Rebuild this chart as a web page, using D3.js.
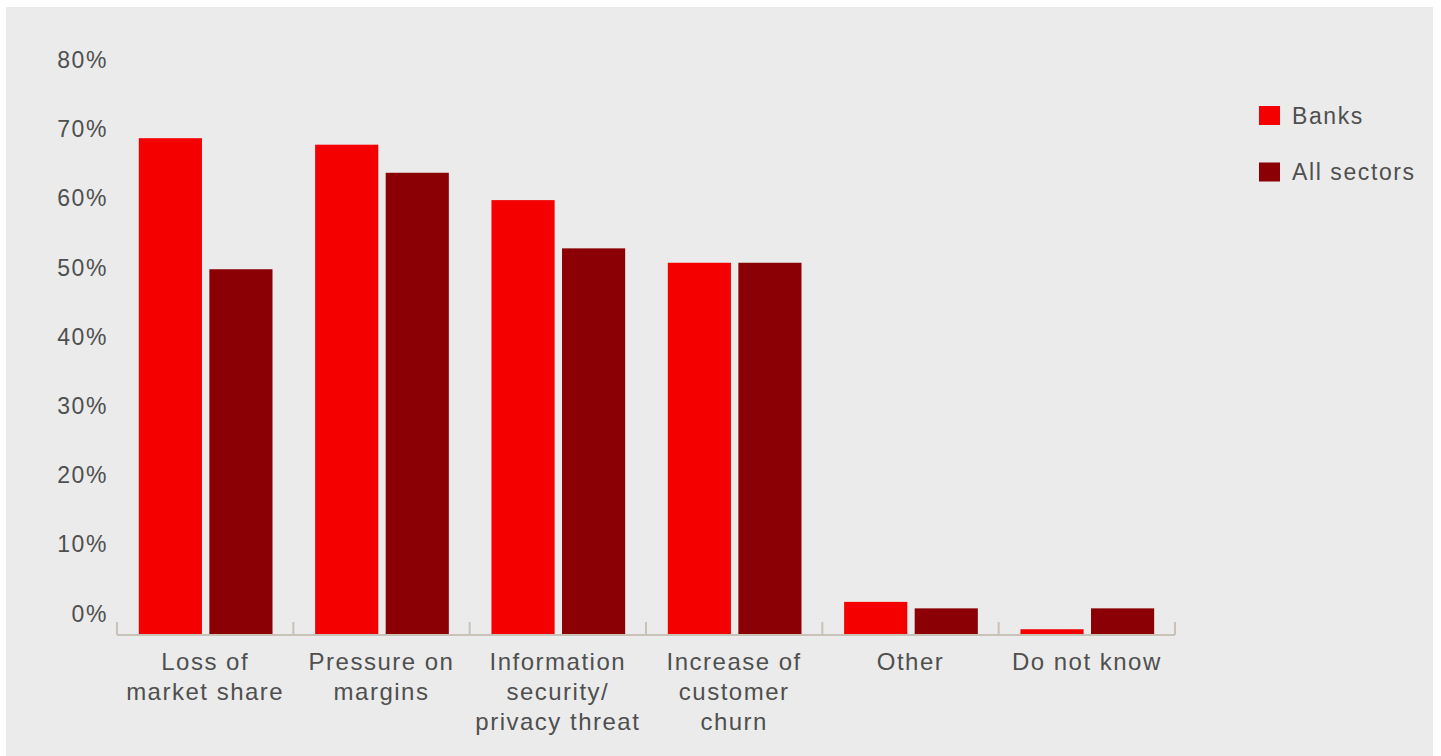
<!DOCTYPE html>
<html>
<head>
<meta charset="utf-8">
<script src="https://cdn.jsdelivr.net/npm/d3@7"></script>
<style>
  html, body { margin: 0; padding: 0; background: #ffffff; }
  svg { display: block; }
  text { font-family: "Liberation Sans", Arial, Helvetica, sans-serif; }
</style>
</head>
<body>
<svg id="chart" width="1441" height="756"></svg>
<script>
// ---- data ----
const categories = [
  ["Loss of", "market share"],
  ["Pressure on", "margins"],
  ["Information", "security/", "privacy threat"],
  ["Increase of", "customer", "churn"],
  ["Other"],
  ["Do not know"]
];
const categoryKeys = ["Loss of market share", "Pressure on margins", "Information security/privacy threat", "Increase of customer churn", "Other", "Do not know"];
const seriesNames = ["Banks", "All sectors"];
const banks = [69, 68.1, 60.4, 51.7, 4.6, 0.8];
const allSectors = [50.8, 64.2, 53.7, 51.7, 3.7, 3.7];
const yTickValues = [0, 10, 20, 30, 40, 50, 60, 70, 80];
const yTickLabels = ["0%", "10%", "20%", "30%", "40%", "50%", "60%", "70%", "80%"];
const colors = ["#f40000", "#8a0005"];

// ---- layout ----
const svg = d3.select("#chart");
svg.append("rect").attr("x", 6).attr("y", 7).attr("width", 1427).attr("height", 749).attr("fill", "#ebebeb");

const baseline = 635;
const x = d3.scaleBand().domain(categoryKeys).range([117, 1175]).padding(0);
const xSub = d3.scaleBand().domain(seriesNames).range([21.8, 155.5]).paddingInner(0.105);
const y = d3.scaleLinear().domain([0, 80]).range([baseline, 59]);
// tick labels are set on their own, evenly spaced scale (as in the original)
const yLab = d3.scaleLinear().domain([0, 80]).range([613.5, 60]);

const textColor = "#4f4f4f";

// y labels
svg.append("g").selectAll("text").data(yTickValues).join("text")
  .attr("x", 108).attr("y", d => yLab(d))
  .attr("text-anchor", "end").attr("dominant-baseline", "central")
  .attr("font-size", 23).attr("letter-spacing", 1.6).attr("fill", textColor)
  .text((d, i) => yTickLabels[i]);

// bars
const seriesData = [banks, allSectors];
seriesNames.forEach((s, si) => {
  svg.append("g").selectAll("rect").data(seriesData[si]).join("rect")
    .attr("x", (d, i) => x(categoryKeys[i]) + xSub(s))
    .attr("width", xSub.bandwidth())
    .attr("y", d => y(d))
    .attr("height", d => baseline - y(d))
    .attr("fill", colors[si]);
});

// axis line and ticks
const axisColor = "#c8c2b8";
svg.append("line").attr("x1", 117).attr("x2", 1175).attr("y1", baseline).attr("y2", baseline)
  .attr("stroke", axisColor).attr("stroke-width", 2);
const boundaries = categoryKeys.map(c => x(c)).concat([x(categoryKeys[categoryKeys.length - 1]) + x.bandwidth()]);
svg.append("g").selectAll("line").data(boundaries).join("line")
  .attr("x1", d => d).attr("x2", d => d).attr("y1", baseline - 13).attr("y2", baseline)
  .attr("stroke", axisColor).attr("stroke-width", 2);

// x labels
const xl = svg.append("g").selectAll("text").data(categories).join("text")
  .attr("text-anchor", "middle").attr("font-size", 24).attr("letter-spacing", 1.5).attr("fill", textColor)
  .attr("x", (d, i) => x(categoryKeys[i]) + x.bandwidth() / 2)
  .attr("y", 670);
xl.selectAll("tspan").data(d => d).join("tspan")
  .attr("x", function() { return d3.select(this.parentNode).attr("x"); })
  .attr("dy", (d, i) => i === 0 ? 0 : 30)
  .text(d => d);

// legend
const legend = svg.append("g");
const legendY = [115.5, 172];
seriesNames.forEach((s, i) => {
  legend.append("rect").attr("x", 1259).attr("y", legendY[i] - 9.5).attr("width", 21).attr("height", 19).attr("fill", colors[i]);
  legend.append("text").attr("x", 1292).attr("y", legendY[i]).attr("dominant-baseline", "central")
    .attr("font-size", 23).attr("letter-spacing", 1.6).attr("fill", textColor).text(s);
});
</script>
</body>
</html>
